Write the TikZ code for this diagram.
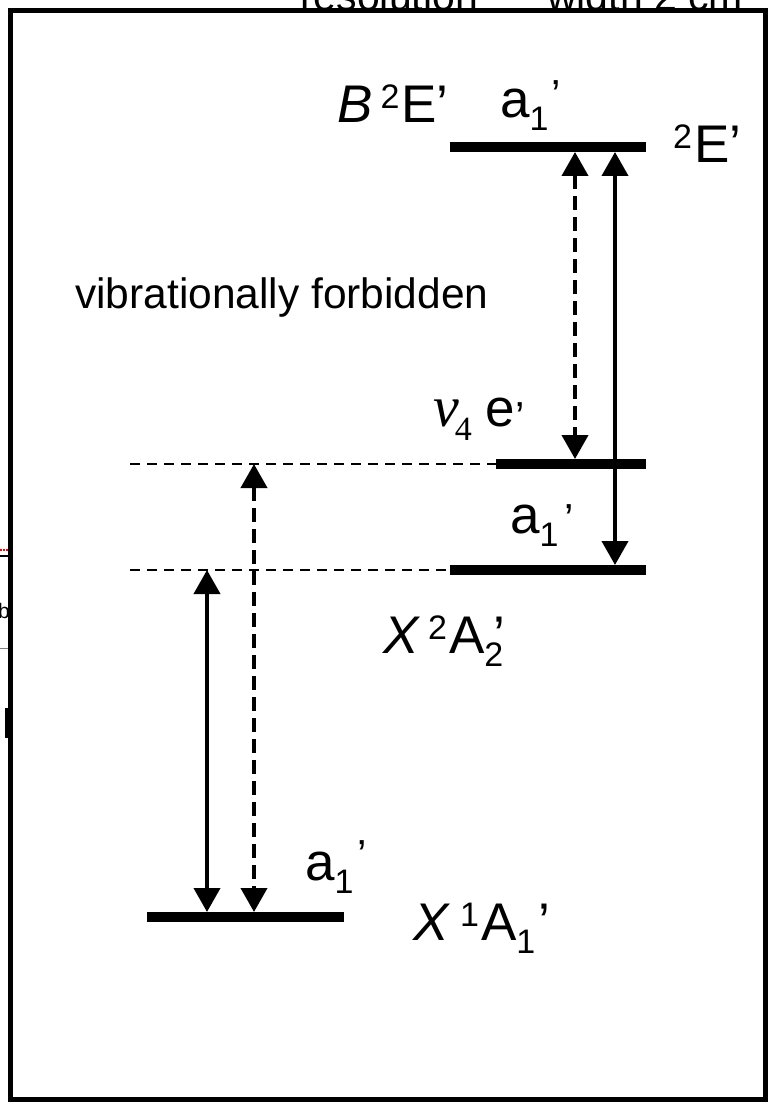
\documentclass[tikz,border=0pt]{standalone}
\usepackage{fontspec}
\setmainfont{Liberation Sans}
\newfontfamily\serifface{Liberation Serif}
\usetikzlibrary{arrows.meta}
\newcommand\supx[2][14pt]{\raisebox{#1}{\fontsize{34}{38}\selectfont #2}}
\newcommand\subx[2][-13pt]{\raisebox{#1}{\fontsize{34}{38}\selectfont #2}}
\newcommand\prm[1]{\raisebox{#1}{\fontsize{42}{46}\selectfont ’}}
\begin{document}
\begin{tikzpicture}[x=1pt,y=-1pt,
  lbl/.style={anchor=base west,inner sep=0pt,font=\fontsize{53}{60}\selectfont},
  note/.style={anchor=base west,inner sep=0pt,font=\fontsize{42.5}{50}\selectfont},
  level/.style={line width=10pt},
  guide/.style={line width=2pt,dash pattern=on 10pt off 7pt},
  tr/.style={line width=4pt,{Triangle[width=26pt,length=24pt]}-{Triangle[width=26pt,length=24pt]}},
  dtr/.style={tr,dash pattern=on 14pt off 7pt},
  frame/.style={line width=5pt}]
\useasboundingbox (0,0) rectangle (769,1102);
\fill[white] (0,0) rectangle (769,1102);

% cut-off text above the frame
\node[anchor=base west,inner sep=0pt,font=\fontsize{41}{45}\selectfont] (res) at (300,11) {resolution};
\node[anchor=base west,inner sep=0pt,font=\fontsize{41}{45}\selectfont] (wid) at (547,11) {width 2 cm};

% left-edge fragments
\draw[red,line width=1.5pt,dash pattern=on 2pt off 1pt] (0,550) -- (8,550);
\draw[line width=2pt] (0,556) -- (8,556);
\node[anchor=base west,inner sep=0pt,font=\fontsize{21}{24}\selectfont] (frag) at (-2,618) {b};
\draw[gray,line width=1pt] (0,648) -- (8,648);
\fill (5,708) rectangle (9,738);

% coordinates of levels
\coordinate (Bl) at (450,147);  \coordinate (Br) at (646,147);
\coordinate (Vl) at (496,464);  \coordinate (Vr) at (646,464);
\coordinate (Al) at (450,570);  \coordinate (Ar) at (646,570);
\coordinate (Xl) at (147,917);  \coordinate (Xr) at (344,917);
\coordinate (gV) at (130,464);  \coordinate (gA) at (130,570);

% levels
\draw[level] (Bl) -- (Br);
\draw[level] (Vl) -- (Vr);
\draw[level] (Al) -- (Ar);
\draw[level] (Xl) -- (Xr);

% guide lines
\draw[guide] (gV) -- (Vl);
\draw[guide] (gA) -- (Al);

% arrow end points
\coordinate (s1t) at (615,152); \coordinate (s1b) at (615,565);
\coordinate (d1t) at (575,152); \coordinate (d1b) at (575,459);
\coordinate (s2t) at (207,570); \coordinate (s2b) at (207,912);
\coordinate (d2t) at (254,464); \coordinate (d2b) at (254,912);

\draw[tr] (s1t) -- (s1b);
\draw[dtr] (d1t) -- (d1b);
\draw[tr] (s2t) -- (s2b);
\draw[dtr] (d2t) -- (d2b);

% labels
\node[lbl] (Blab) at (337,123) {\textit{B}\hspace{8pt}\supx{2}\hspace{2pt}E’};
\node[lbl] (aB) at (500,118) {a\subx{1}\hspace{3pt}\prm{8pt}};
\node[lbl] (Eright) at (673,163) {\supx{2}\hspace{2pt}E’};
\node[note] (forb) at (75,308) {vibrationally forbidden};
\node[lbl] (nu) at (433,426) {{\serifface\itshape\fontsize{58}{60}\selectfont ν}\hspace{-4pt}\subx[-14pt]{\serifface 4}\hspace{14pt}e\prm{-5pt}};
\node[lbl] (aA) at (510,533) {a\subx{1}\hspace{6pt}\prm{0pt}};
\node[lbl] (Xlab2) at (383,653) {\textit{X}\hspace{8pt}\supx{2}\hspace{2pt}A\subx{2}\hspace{-10pt}’};
\node[lbl] (aX) at (305,880) {a\subx{1}\hspace{4pt}\prm{11pt}};
\node[lbl] (Xlab1) at (413,940) {\textit{X}\hspace{10pt}\supx{1}\hspace{2pt}A\subx{1}\hspace{3pt}’};

% frame
\draw[frame] (10.5,10.5) rectangle (765.5,1099);
\end{tikzpicture}
\end{document}
